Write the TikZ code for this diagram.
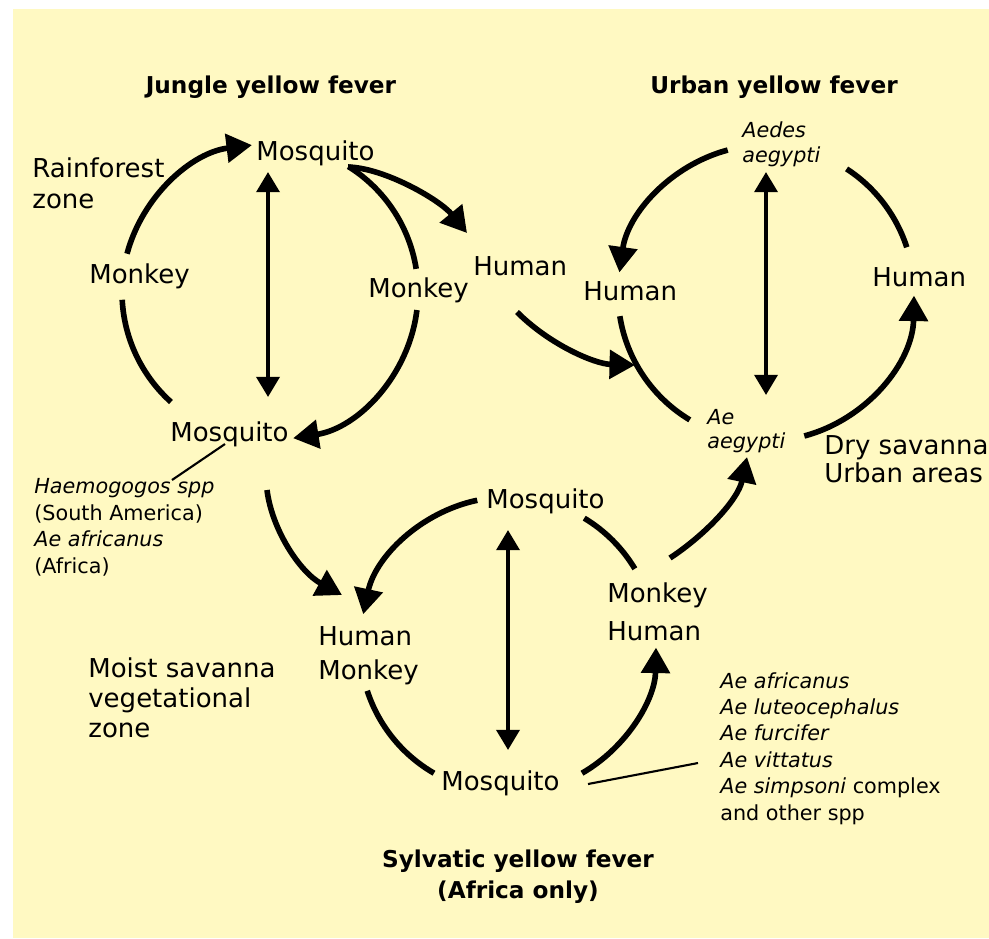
\documentclass[tikz,border=0pt]{standalone}
\usepackage{fontspec}
\setmainfont{DejaVu Sans}
\usetikzlibrary{arrows.meta,calc}

\definecolor{paper}{RGB}{255,249,194}

\tikzset{
    ring/.style={line width=3.2pt},
    flow/.style={ring, -{Triangle[length=14.5pt,width=16pt]}},
    twoway/.style={line width=2.4pt, {Triangle[length=11.5pt,width=13pt]}-{Triangle[length=11.5pt,width=13pt]}},
    leader/.style={line width=1.2pt},
    lbl/.style={font=\fontsize{14.8}{17.6}\selectfont, inner sep=0pt, anchor=base west, align=left},
    spp/.style={font=\fontsize{11.8}{15}\selectfont, inner sep=0pt, anchor=base west, align=left},
    heading/.style={font=\bfseries\fontsize{13.2}{17.6}\selectfont, inner sep=0pt, anchor=base, align=center}
}

\begin{document}
\begin{tikzpicture}[x=0.02cm, y=-0.02cm]
    % 0. Paper
    \useasboundingbox (0,0) rectangle (989,938);
    \fill[paper] (13,9) rectangle (989,938);

    % 1. Define Coordinates
    \coordinate (J) at (270,292);   % jungle cycle centre
    \coordinate (U) at (766,293);   % urban cycle centre
    \coordinate (S) at (508,645);   % sylvatic cycle centre

    \coordinate (jtop) at (268,172);
    \coordinate (jbot) at (268,397);
    \coordinate (utop) at (766,172);
    \coordinate (ubot) at (766,395);
    \coordinate (stop) at (508,530);
    \coordinate (sbot) at (508,750);

    \coordinate (fork)   at (348,167);  % where the human branch leaves
    \coordinate (toHum)  at (467,233);
    \coordinate (fromHum) at (517,312);
    \coordinate (toAe)   at (635,365);
    \coordinate (fromMq) at (267,490);
    \coordinate (toSyl)  at (342,595);
    \coordinate (fromMk) at (670,558);
    \coordinate (toUrb)  at (747,457);

    % 2. Titles (multi-line nodes sit on their last baseline)
    \node[heading] (jTitle) at (271,93) {Jungle yellow fever};
    \node[heading] (uTitle) at (774,93) {Urban yellow fever};
    \node[heading] (sTitle) at (518,898) {Sylvatic yellow fever\\(Africa only)};

    % 3. Labels
    % jungle
    \node[lbl] (jMosqTop) at (256,160) {Mosquito};
    \node[lbl] (jMonkeyL) at (89,283) {Monkey};
    \node[lbl] (jMonkeyR) at (368,297) {Monkey};
    \node[lbl] (jMosqBot) at (170,441) {Mosquito};
    \node[lbl] (jHuman) at (473,275) {Human};
    \node[lbl] (rainforest) at (32,208) {Rainforest\\zone};
    \node[spp] (jVectors) at (34,573) {\textit{Haemogogos spp}\\(South America)\\\textit{Ae africanus}\\(Africa)};
    % urban
    \node[spp] (uAedes) at (742,162) {\textit{Aedes}\\[-0.9pt]\textit{aegypti}};
    \node[lbl] (uHumanL) at (583,300) {Human};
    \node[lbl] (uHumanR) at (872,286) {Human};
    \node[spp] (uAe) at (707,448) {\textit{Ae}\\[-1.4pt]\textit{aegypti}};
    \node[lbl] (drySav) at (824,482) {Dry savanna\\[-1.7pt]Urban areas};
    % sylvatic
    \node[lbl] (sMosqTop) at (486,508) {Mosquito};
    \node[lbl] (sHumMon) at (318,679) {Human\\[1.7pt]Monkey};
    \node[lbl] (sMonHum) at (607,640) {Monkey\\[4pt]Human};
    \node[lbl] (sMosqBot) at (441,790) {Mosquito};
    \node[lbl] (moistSav) at (88,737) {Moist savanna\\[-0.6pt]vegetational\\[-0.6pt]zone};
    \node[spp] (sVectors) at (720,820) {\textit{Ae africanus}\\\textit{Ae luteocephalus}\\\textit{Ae furcifer}\\\textit{Ae vittatus}\\\textit{Ae simpsoni} complex\\and other spp};

    % 4. Cycles (plain arcs)
    \foreach \c/\a/\b in {J/177/132, J/302/351, U/303/342, U/171/121, S/301/329, S/162/120}
        \draw[ring] ($(\c)+(\a:148)$) arc[start angle=\a, end angle=\b, radius=148];

    % 5. Cycles (arrowed arcs)
    \foreach \c/\a/\b in {J/195/263, J/7/81, U/255/188, U/75/1, S/258/192, S/60/1}
        \draw[flow] ($(\c)+(\a:148)$) arc[start angle=\a, end angle=\b, radius=148];

    % 6. Mosquito <-> host
    \draw[twoway] (jtop) -- (jbot);
    \draw[twoway] (utop) -- (ubot);
    \draw[twoway] (stop) -- (sbot);

    % 7. Links between cycles
    \draw[flow] (fork) .. controls (385,168) and (440,200) .. (toHum);
    \draw[flow] (fromHum) .. controls (550,345) and (595,364) .. (toAe);
    \draw[flow] (fromMq) .. controls (272,530) and (300,572) .. (toSyl);
    \draw[flow] (fromMk) .. controls (705,535) and (738,500) .. (toUrb);

    % 8. Leaders to vector species
    \coordinate (jLeadA) at (225,444);
    \coordinate (jLeadB) at (172,480);
    \coordinate (sLeadA) at (588,784);
    \coordinate (sLeadB) at (698,763);
    \draw[leader] (jLeadA) -- (jLeadB);
    \draw[leader] (sLeadA) -- (sLeadB);
\end{tikzpicture}
\end{document}
